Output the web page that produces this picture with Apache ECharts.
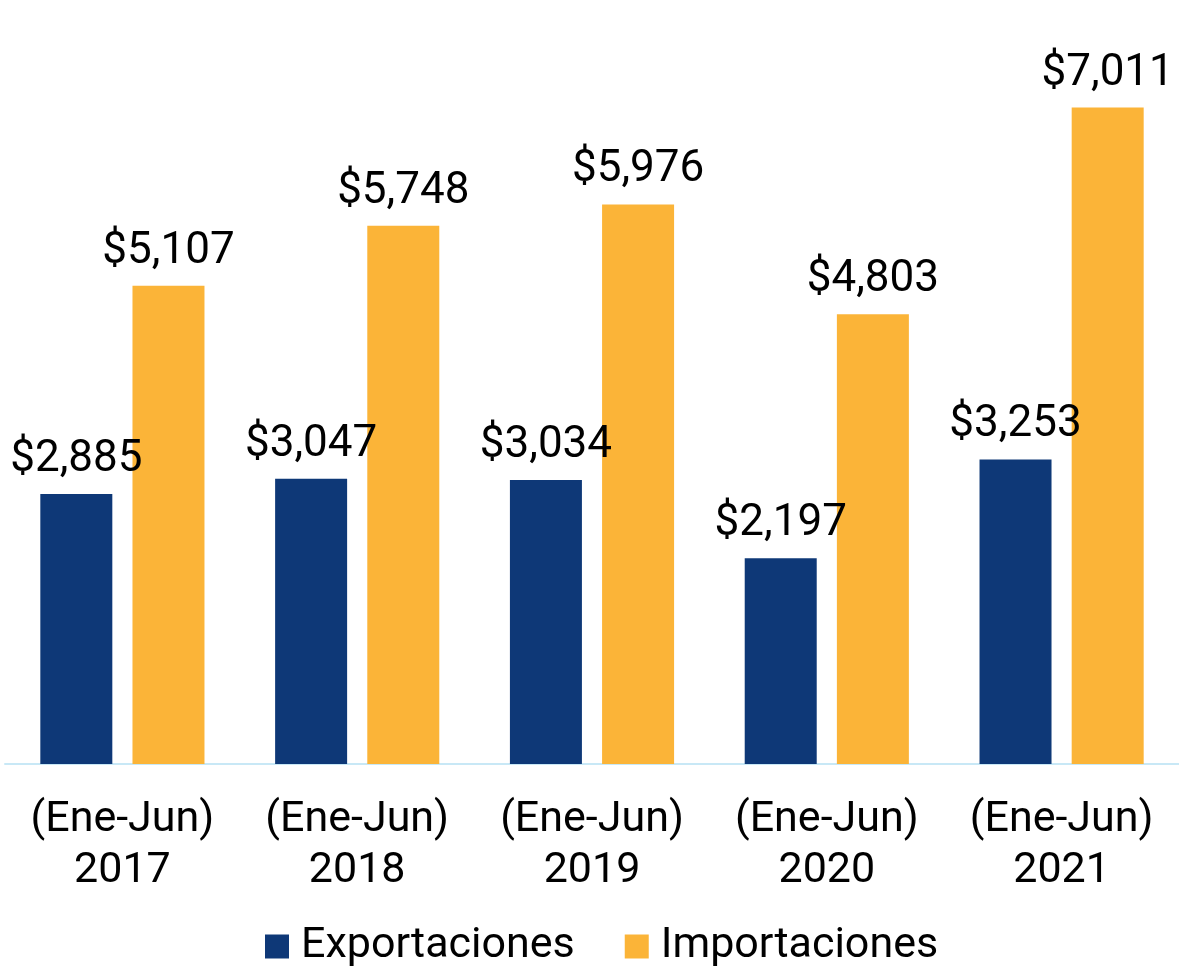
<!DOCTYPE html>
<html><head><meta charset="utf-8">
<script src="https://cdn.jsdelivr.net/npm/echarts@6/dist/echarts.min.js"></script>
<style>html,body{margin:0;padding:0;background:#fff}#c{width:1179px;height:973px}</style>
</head><body><div id="c"></div>
<script>
const categories = ["(Ene-Jun)\n2017","(Ene-Jun)\n2018","(Ene-Jun)\n2019","(Ene-Jun)\n2020","(Ene-Jun)\n2021"];
const exportaciones = [2885, 3047, 3034, 2197, 3253];
const importaciones = [5107, 5748, 5976, 4803, 7011];
const seriesNames = ["Exportaciones", "Importaciones"];

const fmt = p => '$' + p.value.toLocaleString('en-US');
const chart = echarts.init(document.getElementById('c'));
const labelStyle = {show:true, position:'top', distance:12, formatter:fmt, color:'#000', fontSize:44, fontFamily:'Roboto'};
chart.setOption({
  animation:false,
  textStyle:{fontFamily:'Roboto'},
  grid:{left:5, right:0, top:15, bottom:209, containLabel:false},
  legend:{data:seriesNames, bottom:0, left:260, itemWidth:24, itemHeight:24, itemGap:50,
    icon:'rect', textStyle:{fontSize:43, color:'#000', fontFamily:'Roboto', padding:[0,0,0,7]}},
  xAxis:{type:'category', data:categories,
    axisLine:{lineStyle:{color:'#c8e8f6', width:2}}, axisTick:{show:false},
    axisLabel:{interval:0, fontSize:43, color:'#000', lineHeight:51, margin:31, fontFamily:'Roboto'}},
  yAxis:{type:'value', min:0, max:8000, show:false, splitLine:{show:false}},
  series:[
    {name:seriesNames[0], type:'bar', data:exportaciones, barWidth:72, barGap:'28%',
      itemStyle:{color:'#0e3877'}, label:labelStyle},
    {name:seriesNames[1], type:'bar', data:importaciones, barWidth:72, barGap:'28%',
      itemStyle:{color:'#fbb438'}, label:labelStyle}
  ]
});
</script></body></html>
